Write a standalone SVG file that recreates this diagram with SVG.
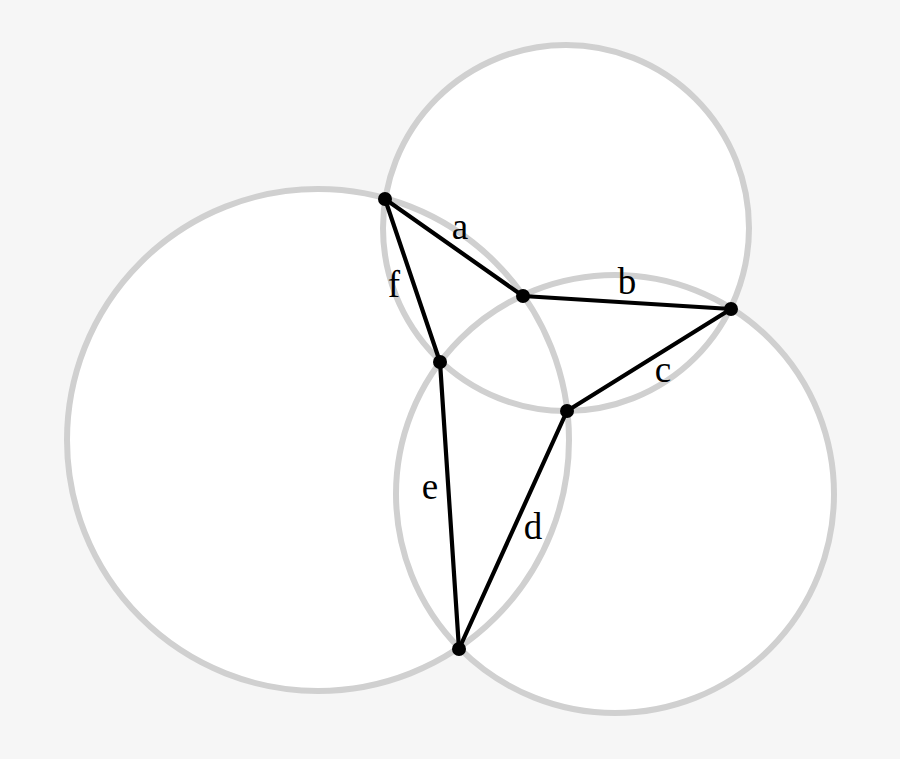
<svg xmlns="http://www.w3.org/2000/svg" width="900" height="759" viewBox="0 0 900 759">
<style>
.fill{fill:#ffffff;stroke:none}
.ring{fill:none;stroke:#d0d0d0;stroke-width:6}
.edge{stroke:#000;stroke-width:4.2;fill:none;stroke-linecap:round}
.dot{fill:#000}
.lbl{font-family:"Liberation Serif","DejaVu Serif",serif;font-size:37px;fill:#000;text-anchor:middle}
</style>
<rect width="900" height="759" fill="#f6f6f6"/>
<g id="circles">
<circle class="fill" cx="566" cy="228" r="183"/>
<circle class="fill" cx="318" cy="440" r="251"/>
<circle class="fill" cx="615" cy="494" r="219"/>
<circle class="ring" cx="566" cy="228" r="183"/>
<circle class="ring" cx="318" cy="440" r="251"/>
<circle class="ring" cx="615" cy="494" r="219"/>
</g>
<g id="connectors">
<line class="edge" x1="385" y1="199" x2="523" y2="296"/>
<line class="edge" x1="523" y1="296" x2="731" y2="309"/>
<line class="edge" x1="731" y1="309" x2="567" y2="411"/>
<line class="edge" x1="567" y1="411" x2="459" y2="649"/>
<line class="edge" x1="459" y1="649" x2="440" y2="362"/>
<line class="edge" x1="440" y1="362" x2="385" y2="199"/>
</g>
<g id="labels">
<text class="lbl" x="460" y="239">a</text>
<text class="lbl" x="627" y="294">b</text>
<text class="lbl" x="663" y="382">c</text>
<text class="lbl" x="533" y="539">d</text>
<text class="lbl" x="430" y="499">e</text>
<text class="lbl" x="394" y="297">f</text>
</g>
<g id="n1"><circle class="dot" cx="385" cy="199" r="7"/></g>
<g id="n2"><circle class="dot" cx="523" cy="296" r="7"/></g>
<g id="n3"><circle class="dot" cx="731" cy="309" r="7"/></g>
<g id="n4"><circle class="dot" cx="567" cy="411" r="7"/></g>
<g id="n5"><circle class="dot" cx="459" cy="649" r="7"/></g>
<g id="n6"><circle class="dot" cx="440" cy="362" r="7"/></g>
</svg>
